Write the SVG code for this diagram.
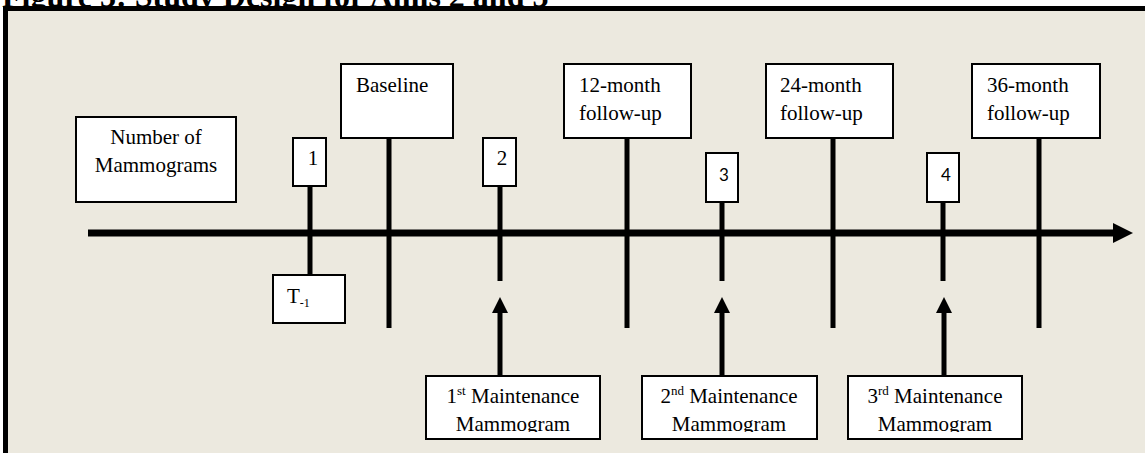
<svg xmlns="http://www.w3.org/2000/svg" width="1145" height="453" viewBox="0 0 1145 453">
  <style>
    .box { fill: #ffffff; stroke: #000000; stroke-width: 2; }
    .lbl { font-family: "Liberation Serif", "Times New Roman", serif; font-size: 21px; fill: #000000; }
    .num { font-family: Lato, "Liberation Sans", sans-serif; font-size: 17px; fill: #000000; }
    .sup { font-size: 13px; }
    .mid { text-anchor: middle; }
    .stem { stroke: #000000; stroke-width: 5; fill: none; }
    .axis { stroke: #000000; stroke-width: 7; fill: none; }
    .title { font-family: "Liberation Serif", "Times New Roman", serif; font-size: 32px; font-weight: bold; fill: #000000; }
  </style>
  <defs>
    <clipPath id="clipM1"><rect x="427" y="377" width="172" height="55"/></clipPath>
    <clipPath id="clipM2"><rect x="643" y="377" width="173" height="55"/></clipPath>
    <clipPath id="clipM3"><rect x="849" y="377" width="172" height="55"/></clipPath>
  </defs>

  <!-- page background and title -->
  <rect x="0" y="0" width="1145" height="453" fill="#ffffff"/>
  <text class="title" x="2" y="7">Figure 3: Study Design for Aims 2 and 3</text>

  <!-- framed panel -->
  <rect x="5.5" y="8.5" width="1200" height="500" fill="#ECE9DF" stroke="#000000" stroke-width="5"/>

  <!-- connectors: timeline, stems and arrows -->
  <g id="connectors">
    <line class="axis" x1="88" y1="233" x2="1115" y2="233"/>
    <polygon points="1113,223 1133,233 1113,243" fill="#000000"/>

    <line class="stem" x1="310" y1="186" x2="310" y2="275"/>
    <line class="stem" x1="500" y1="186" x2="500" y2="281"/>
    <line class="stem" x1="722" y1="202" x2="722" y2="281"/>
    <line class="stem" x1="943" y1="202" x2="943" y2="281"/>

    <line class="stem" x1="389" y1="138" x2="389" y2="328"/>
    <line class="stem" x1="627" y1="138" x2="627" y2="328"/>
    <line class="stem" x1="833" y1="138" x2="833" y2="328"/>
    <line class="stem" x1="1039" y1="138" x2="1039" y2="328"/>

    <line class="stem" x1="500" y1="376" x2="500" y2="311"/>
    <polygon points="492,313 500,297 508,313" fill="#000000"/>
    <line class="stem" x1="722" y1="376" x2="722" y2="311"/>
    <polygon points="714,313 722,297 730,313" fill="#000000"/>
    <line class="stem" x1="944" y1="376" x2="944" y2="311"/>
    <polygon points="936,313 944,297 952,313" fill="#000000"/>
  </g>

  <g id="num-mammograms">
    <rect class="box" x="76" y="117" width="160" height="85"/>
    <text class="lbl mid" x="156" y="144">Number of</text>
    <text class="lbl mid" x="156" y="172">Mammograms</text>
  </g>

  <g id="t-minus-1">
    <rect class="box" x="273" y="275" width="72" height="48"/>
    <text class="lbl" x="287" y="303">T<tspan font-size="12" dy="4">-1</tspan></text>
  </g>

  <g id="count-1">
    <rect class="box" x="293" y="138" width="33" height="48"/>
    <text class="lbl mid" x="313" y="165">1</text>
  </g>
  <g id="count-2">
    <rect class="box" x="483" y="138" width="33" height="48"/>
    <text class="lbl mid" x="502" y="165">2</text>
  </g>
  <g id="count-3">
    <rect class="box" x="706" y="153" width="32" height="49"/>
    <text class="num mid" x="724" y="181">3</text>
  </g>
  <g id="count-4">
    <rect class="box" x="927" y="153" width="32" height="49"/>
    <text class="num mid" x="946" y="181">4</text>
  </g>

  <g id="baseline">
    <rect class="box" x="341" y="64" width="112" height="74"/>
    <text class="lbl" x="356" y="92">Baseline</text>
  </g>
  <g id="followup-12">
    <rect class="box" x="564" y="64" width="127" height="74"/>
    <text class="lbl" x="579" y="92">12-month</text>
    <text class="lbl" x="579" y="120">follow-up</text>
  </g>
  <g id="followup-24">
    <rect class="box" x="766" y="64" width="127" height="74"/>
    <text class="lbl" x="780" y="92">24-month</text>
    <text class="lbl" x="780" y="120">follow-up</text>
  </g>
  <g id="followup-36">
    <rect class="box" x="972" y="64" width="128" height="74"/>
    <text class="lbl" x="987" y="92">36-month</text>
    <text class="lbl" x="987" y="120">follow-up</text>
  </g>

  <g id="maintenance-1">
    <rect class="box" x="426" y="376" width="174" height="63"/>
    <g clip-path="url(#clipM1)">
      <text class="lbl mid" x="513" y="403">1<tspan class="sup" dy="-8">st</tspan><tspan dy="8"> Maintenance</tspan></text>
      <text class="lbl mid" x="513" y="431">Mammogram</text>
    </g>
  </g>
  <g id="maintenance-2">
    <rect class="box" x="642" y="376" width="175" height="63"/>
    <g clip-path="url(#clipM2)">
      <text class="lbl mid" x="729" y="403">2<tspan class="sup" dy="-8">nd</tspan><tspan dy="8"> Maintenance</tspan></text>
      <text class="lbl mid" x="729" y="431">Mammogram</text>
    </g>
  </g>
  <g id="maintenance-3">
    <rect class="box" x="848" y="376" width="174" height="63"/>
    <g clip-path="url(#clipM3)">
      <text class="lbl mid" x="935" y="403">3<tspan class="sup" dy="-8">rd</tspan><tspan dy="8"> Maintenance</tspan></text>
      <text class="lbl mid" x="935" y="431">Mammogram</text>
    </g>
  </g>
</svg>
